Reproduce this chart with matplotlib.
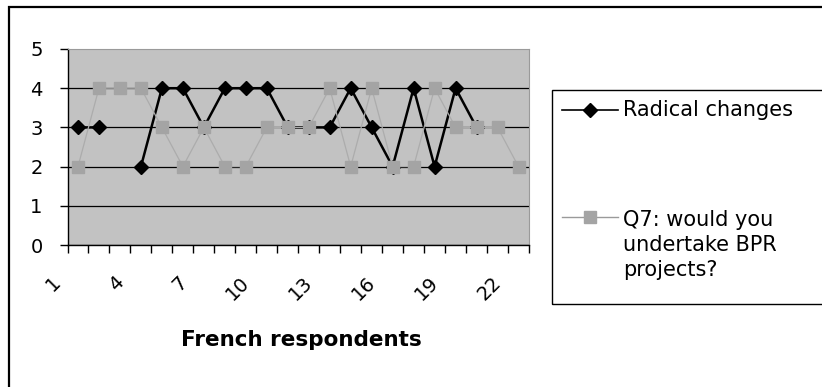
import numpy as np
import matplotlib
matplotlib.use("Agg")
import matplotlib.pyplot as plt
from matplotlib.lines import Line2D
from matplotlib.patches import Rectangle
from matplotlib.transforms import ScaledTranslation

"============================================================================"
"1|DATA"
respondents = np.arange(1, 23)                     # French respondents 1..22
radical = [3, 3, np.nan, 2, 4, 4, 3, 4, 4, 4, 3,
           3, 3, 4, 3, 2, 4, 2, 4, 3, np.nan, np.nan]
q7_bpr  = [2, 4, 4, 4, 3, 2, 3, 2, 2, 3, 3,
           3, 4, 2, 4, 2, 2, 4, 3, 3, 3, 2]
label_ticks = [1, 4, 7, 10, 13, 16, 19, 22]
y_ticks = [0, 1, 2, 3, 4, 5]
series_names = ["Radical changes", "Q7: would you\nundertake BPR\nprojects?"]

"============================================================================"
"2|FIGURE"
W, H = 822, 387
fig = plt.figure(figsize=(W/100, H/100), dpi=100)
fig.patch.set_facecolor("white")

def fx(px): return px / W
def fy(py): return 1 - py / H

# chart area border (left and top visible)
fig.patches.append(Rectangle((fx(9), fy(400)), fx(830) - fx(9), fy(7) - fy(400),
                             transform=fig.transFigure, fill=False,
                             edgecolor="black", linewidth=1.6))

ax = fig.add_axes([fx(67.5), fy(245), fx(529) - fx(67.5), fy(49) - fy(245)])
ax.set_facecolor("#c2c2c2")

# series
ax.plot(respondents, radical, color="black", lw=1.8, marker="D", ms=7,
        mfc="black", mec="black", zorder=3)
ax.plot(respondents, q7_bpr, color="#acacac", lw=0.9, marker="s", ms=9,
        mfc="#a4a4a4", mec="#a4a4a4", zorder=4)

# axes
ax.set_xlim(0.5, 22.5)
ax.set_ylim(0, 5)
ax.set_yticks(y_ticks)
ax.set_yticklabels([str(v) for v in y_ticks], fontsize=14)
ax.set_xticks(np.arange(0.5, 23, 1))
ax.set_xticklabels([])
ax.set_xticks(label_ticks, minor=True)
ax.set_xticklabels([str(v) for v in label_ticks], minor=True, fontsize=14,
                   rotation=45, ha="right", va="center", rotation_mode="anchor")
ax.tick_params(axis="x", which="major", length=6, width=1, direction="out")
ax.tick_params(axis="x", which="minor", length=0, pad=25)
ax.tick_params(axis="y", length=6, width=1, direction="out", pad=12)
shift = ScaledTranslation(-20/100, 0, fig.dpi_scale_trans)
for lab in ax.get_xticklabels(minor=True):
    lab.set_transform(lab.get_transform() + shift)

ax.yaxis.grid(True, color="black", lw=0.9)
ax.yaxis.get_gridlines()[-1].set_visible(False)
ax.set_axisbelow(True)
for s in ["top", "right"]:
    ax.spines[s].set_color("#9a9a9a")
    ax.spines[s].set_linewidth(0.8)
ax.spines["left"].set_linewidth(1.0)
ax.spines["bottom"].set_linewidth(1.0)

fig.text(fx(301), fy(340), "French respondents", fontsize=15.5,
         fontweight="bold", ha="center", va="center")

"============================================================================"
"3|LEGEND"
fig.patches.append(Rectangle((fx(551.5), fy(304)), fx(830) - fx(551.5), fy(90) - fy(304),
                             transform=fig.transFigure, fill=False,
                             edgecolor="black", linewidth=1.0))
fig.lines.append(Line2D([fx(562), fx(618)], [fy(110), fy(110)], color="black", lw=1.2,
                        transform=fig.transFigure))
fig.lines.append(Line2D([fx(590)], [fy(110)], marker="D", ms=7, color="black",
                        transform=fig.transFigure))
fig.lines.append(Line2D([fx(562), fx(618)], [fy(217), fy(217)], color="#9a9a9a", lw=1.0,
                        transform=fig.transFigure))
fig.lines.append(Line2D([fx(590)], [fy(217)], marker="s", ms=9, color="#a4a4a4",
                        transform=fig.transFigure))
fig.text(fx(623), fy(110), series_names[0], fontsize=15, ha="left", va="center")
fig.text(fx(623), fy(245), series_names[1], fontsize=15, ha="left", va="center",
         linespacing=1.33)

fig.savefig("out.png", dpi=100)
